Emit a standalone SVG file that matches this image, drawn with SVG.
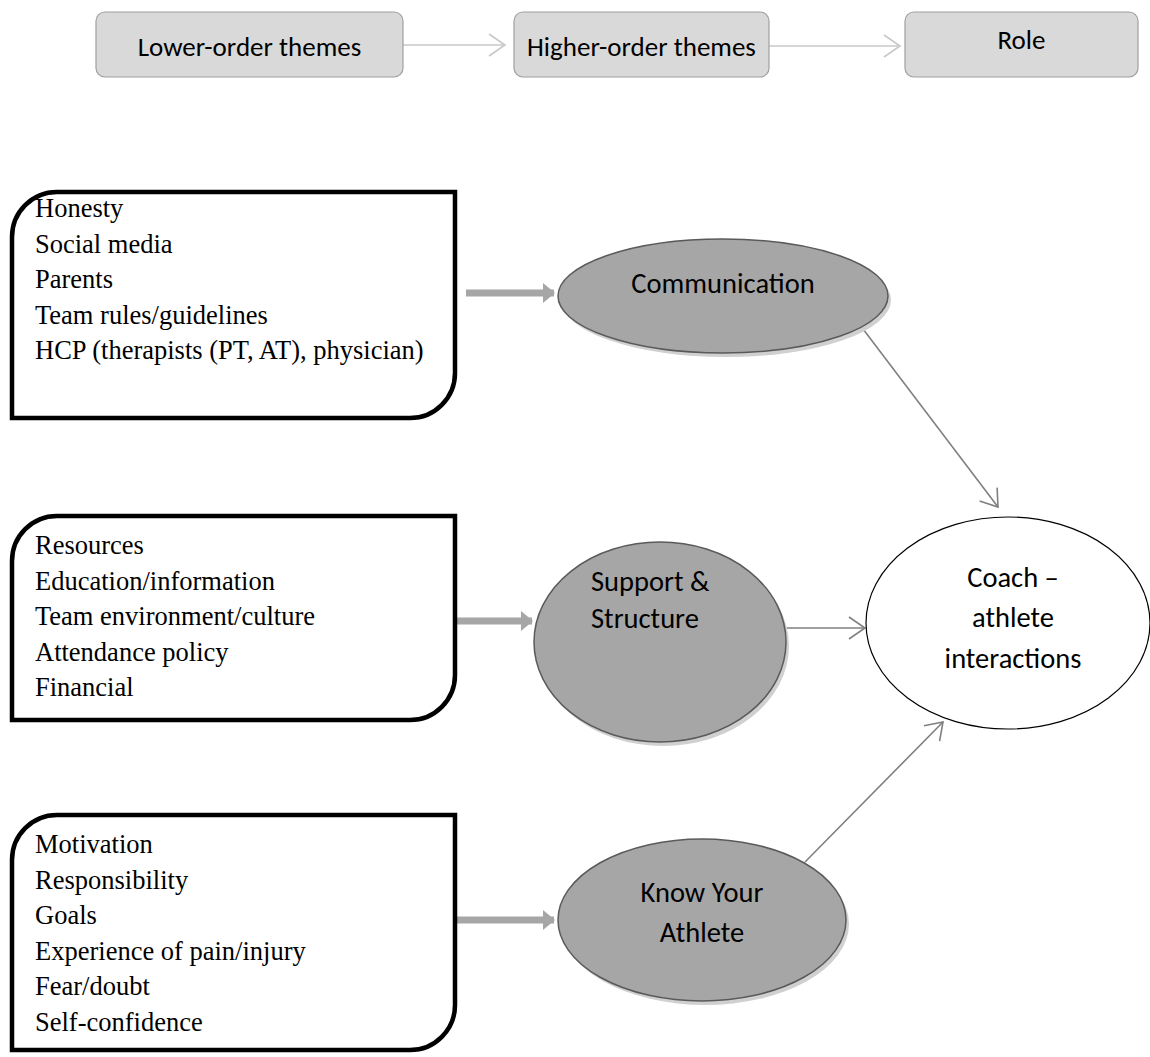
<svg xmlns="http://www.w3.org/2000/svg" width="1150" height="1057" viewBox="0 0 1150 1057">
<style>
.hdr{fill:#D9D9D9;stroke:#A0A0A0;stroke-width:1.2}
.hdrt{font-family:Carlito,Calibri,Lato,"Liberation Sans",sans-serif;font-size:27px;fill:#000;text-anchor:middle}
.lst{fill:#fff;stroke:#000;stroke-width:4.5}
.lt{font-family:"Liberation Serif","Times New Roman",serif;font-size:26.5px;fill:#000}
.gel{fill:#A6A6A6;stroke:#5A5A5A;stroke-width:1.5}
.shd{fill:#D0D0D0}
.ct{font-family:Carlito,Calibri,Lato,"Liberation Sans",sans-serif;font-size:28.5px;fill:#000}
.thick{stroke:#A6A6A6;stroke-width:7;fill:none}
.thin{stroke:#808080;stroke-width:1.6;fill:none}
.light{stroke:#C8C8C8;stroke-width:1.6;fill:none}
</style>
<defs>
<marker id="fillhead" viewBox="0 0 12 20" refX="11" refY="10" markerWidth="12" markerHeight="20" markerUnits="userSpaceOnUse" orient="auto">
<path d="M0,0 L12,10 L0,20 Z" fill="#A6A6A6"/>
</marker>
<marker id="openhead" viewBox="-1 -1 19 24" refX="16" refY="11" markerWidth="19" markerHeight="24" markerUnits="userSpaceOnUse" orient="auto">
<path d="M0,0 L16,11 L0,22" fill="none" stroke="#808080" stroke-width="1.6"/>
</marker>
<marker id="lighthead" viewBox="-1 -1 19 24" refX="16" refY="11" markerWidth="19" markerHeight="24" markerUnits="userSpaceOnUse" orient="auto">
<path d="M0,0 L16,11 L0,22" fill="none" stroke="#C8C8C8" stroke-width="1.6"/>
</marker>
</defs>

<g id="connectors">
<line class="light" x1="403" y1="45" x2="505" y2="45" marker-end="url(#lighthead)"/>
<line class="light" x1="769" y1="46" x2="900" y2="46" marker-end="url(#lighthead)"/>
<line class="thick" x1="466" y1="293" x2="554" y2="293" marker-end="url(#fillhead)"/>
<line class="thick" x1="455" y1="621" x2="532" y2="621" marker-end="url(#fillhead)"/>
<line class="thick" x1="455" y1="920" x2="554" y2="920" marker-end="url(#fillhead)"/>
<line class="thin" x1="860" y1="325" x2="998" y2="507" marker-end="url(#openhead)"/>
<line class="thin" x1="787" y1="628" x2="865" y2="628" marker-end="url(#openhead)"/>
<line class="thin" x1="805" y1="862" x2="943" y2="722" marker-end="url(#openhead)"/>
</g>

<g id="hdr-lower">
<rect class="hdr" x="96" y="12" width="307" height="65" rx="9"/>
<text class="hdrt" x="249.5" y="56">Lower-order themes</text>
</g>
<g id="hdr-higher">
<rect class="hdr" x="514" y="12" width="255" height="65" rx="9"/>
<text class="hdrt" x="641.5" y="56">Higher-order themes</text>
</g>
<g id="hdr-role">
<rect class="hdr" x="905" y="12" width="233" height="65" rx="9"/>
<text class="hdrt" x="1021.5" y="49">Role</text>
</g>

<g id="list-communication">
<path class="lst" d="M12,418 L12,237 A45,45 0 0 1 57,192 L455,192 L455,373 A45,45 0 0 1 410,418 Z"/>
<text class="lt" x="35" y="217">Honesty</text>
<text class="lt" x="35" y="252.5">Social media</text>
<text class="lt" x="35" y="288">Parents</text>
<text class="lt" x="35" y="323.5">Team rules/guidelines</text>
<text class="lt" x="35" y="359">HCP (therapists (PT, AT), physician)</text>
</g>

<g id="list-support">
<path class="lst" d="M12,720 L12,561 A45,45 0 0 1 57,516 L455,516 L455,675 A45,45 0 0 1 410,720 Z"/>
<text class="lt" x="35" y="554">Resources</text>
<text class="lt" x="35" y="589.5">Education/information</text>
<text class="lt" x="35" y="625">Team environment/culture</text>
<text class="lt" x="35" y="660.5">Attendance policy</text>
<text class="lt" x="35" y="696">Financial</text>
</g>

<g id="list-know">
<path class="lst" d="M12,1050 L12,860 A45,45 0 0 1 57,815 L455,815 L455,1005 A45,45 0 0 1 410,1050 Z"/>
<text class="lt" x="35" y="853">Motivation</text>
<text class="lt" x="35" y="888.5">Responsibility</text>
<text class="lt" x="35" y="924">Goals</text>
<text class="lt" x="35" y="959.5">Experience of pain/injury</text>
<text class="lt" x="35" y="995">Fear/doubt</text>
<text class="lt" x="35" y="1030.5">Self-confidence</text>
</g>

<g id="communication">
<ellipse class="shd" cx="726" cy="300" rx="165" ry="57"/>
<ellipse class="gel" cx="723" cy="296" rx="165" ry="57"/>
<text class="ct" x="723" y="293" text-anchor="middle">Communication</text>
</g>

<g id="support-structure">
<ellipse class="shd" cx="663" cy="646" rx="126" ry="100"/>
<ellipse class="gel" cx="660" cy="642" rx="126" ry="100"/>
<text class="ct" x="591" y="591">Support &amp;</text>
<text class="ct" x="591" y="628">Structure</text>
</g>

<g id="know-your-athlete">
<ellipse class="shd" cx="705" cy="924" rx="144" ry="81"/>
<ellipse class="gel" cx="702" cy="920" rx="144" ry="81"/>
<text class="ct" x="702" y="902" text-anchor="middle">Know Your</text>
<text class="ct" x="702" y="942" text-anchor="middle">Athlete</text>
</g>

<g id="coach-athlete">
<ellipse cx="1008" cy="623" rx="142" ry="106" fill="#fff" stroke="#000" stroke-width="1.2"/>
<text class="ct" x="1013" y="587" text-anchor="middle">Coach –</text>
<text class="ct" x="1013" y="627" text-anchor="middle">athlete</text>
<text class="ct" x="1013" y="668" text-anchor="middle">interactions</text>
</g>
</svg>
